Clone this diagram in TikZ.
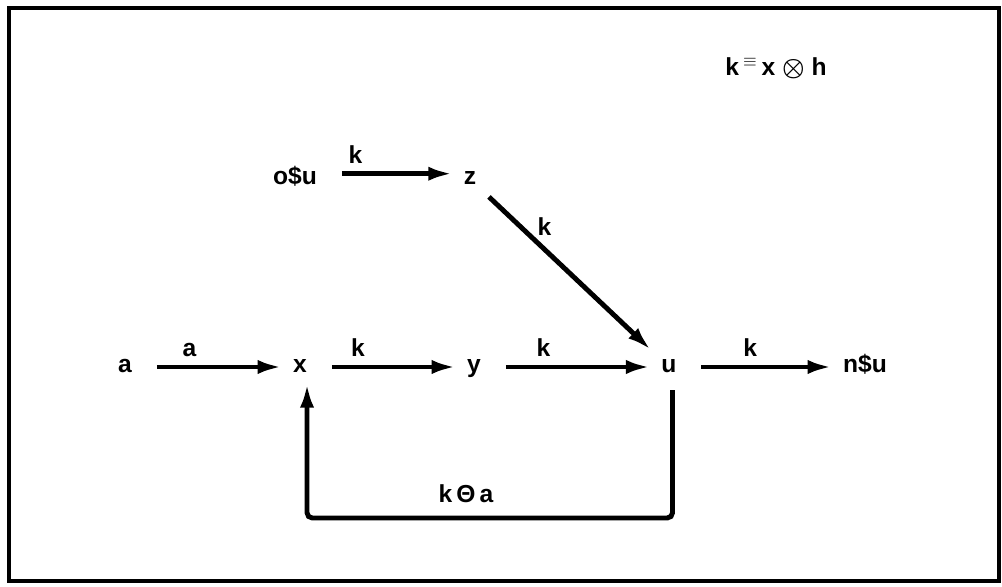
\documentclass[tikz,border=0pt]{standalone}
\usepackage{amsmath,amssymb}
\usepackage{fontspec}
\setmainfont{Liberation Sans}
\usetikzlibrary{arrows.meta}
\begin{document}
\begin{tikzpicture}[every node/.style={font=\fontsize{14}{17}\selectfont\bfseries, text height=1.5ex, text depth=0.25ex, inner xsep=2pt},
	flow/.style={line width=2.8pt, -{Latex[length=14pt,width=8pt]}, shorten <=12pt, shorten >=4pt}]
	\useasboundingbox (0,0) rectangle (20.04,11.72);
	\draw[line width=1.8pt] (0.18,0.10) rectangle (19.98,11.56);
	\node (eq) at (15.52,10.32) {k\,$^{\equiv}$\,x {\boldmath$\otimes$} h};
	\node (ou) at (5.90,8.14) {o\$u}; \node (z) at (9.40,8.14) {z};
	\node (a) at (2.50,4.38) {a}; \node (x) at (6.00,4.38) {x}; \node (y) at (9.48,4.38) {y};
	\node (u) at (13.38,4.38) {u}; \node (nu) at (17.30,4.38) {n\$u};
	\coordinate (base) at (0,1.36);
	\draw[flow] ([yshift=3pt]ou.east) -- node[above, pos=0.25] {k} ([yshift=3pt]z.west);
	\draw[flow, shorten <=7pt, shorten >=5pt] (z) -- node[pos=0.31, anchor=south west, inner sep=0pt] {k} (u);
	\draw[flow] (a) -- node[above, pos=0.35] {a} (x);
	\draw[flow] (x) -- node[above, pos=0.31] {k} (y);
	\draw[flow] (y) -- node[above, pos=0.34] {k} (u);
	\draw[flow] (u) -- node[above, pos=0.44] {k} (nu);
	\draw[flow, rounded corners=3pt, shorten <=5pt, shorten >=1pt] ([xshift=2pt]u.south) -- ([xshift=2pt]u.south |- base) -| ([xshift=4pt]x.south);
	\node (fb) at (9.32,1.78) {k\,Θ\,a};
\end{tikzpicture}
\end{document}
